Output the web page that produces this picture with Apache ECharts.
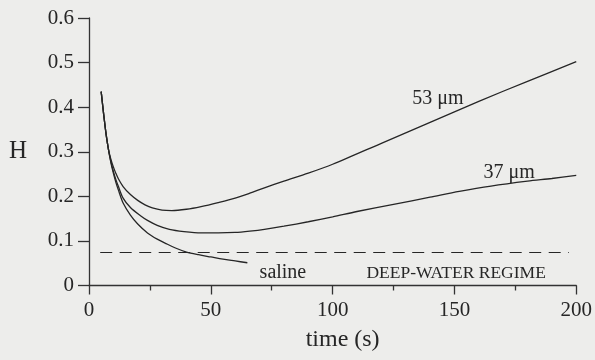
<!DOCTYPE html>
<html>
<head>
<meta charset="utf-8">
<script src="https://cdn.jsdelivr.net/npm/echarts@6/dist/echarts.min.js"></script>
<style>
html,body{margin:0;padding:0;background:#ededeb;}
#c{width:595px;height:360px;}
</style>
</head>
<body>
<div id="c"></div>
<script>
// Data (time in s, H)
var xTicks = [0, 50, 100, 150, 200];
var yTicks = [0, 0.1, 0.2, 0.3, 0.4, 0.5, 0.6];

var curve53 = [
  [5,0.435],[6,0.385],[7,0.34],[8,0.305],[9,0.283],[10,0.266],[11,0.252],[12,0.24],
  [14,0.222],[17,0.204],[20,0.191],[23,0.181],[26,0.174],[30,0.169],[34,0.168],
  [40,0.171],[46,0.177],[53,0.186],[60,0.196],[66,0.207],[72,0.219],[80,0.234],
  [90,0.252],[100,0.272],[120,0.319],[140,0.366],[160,0.413],[180,0.458],[200,0.502]
];
var curve37 = [
  [5,0.435],[6,0.385],[7,0.34],[8,0.305],[9,0.278],[10,0.256],[11,0.238],[12,0.223],
  [14,0.196],[17,0.175],[21,0.157],[24,0.146],[28,0.135],[33,0.126],[39,0.121],
  [46,0.118],[53,0.118],[60,0.119],[66,0.122],[72,0.126],[80,0.133],[90,0.143],
  [100,0.154],[110,0.166],[125,0.182],[140,0.198],[152,0.211],[165,0.223],[180,0.234],
  [190,0.24],[200,0.247]
];
var curveSaline = [
  [5,0.435],[6,0.385],[7,0.34],[8,0.305],[9,0.275],[10,0.252],[11,0.232],[12,0.215],
  [14,0.185],[17,0.158],[20,0.138],[24,0.118],[28,0.104],[32,0.093],[36,0.083],
  [40,0.075],[45,0.069],[50,0.064],[55,0.059],[60,0.055],[65,0.051]
];
var deepWater = [[4.6,0.074],[197,0.074]];

var labels53 = [{text:'53 μm', x:143.2, y:0.42}];
var labels37 = [{text:'37 μm', x:172.5, y:0.252}];
var labelsSaline = [{text:'saline', x:79.6, y:0.028}];
var labelsDeep = [{text:'DEEP-WATER REGIME', x:150.7, y:0.027}];

var FONT = 'Liberation Serif';
var INK = '#262626';

function marks(list, size) {
  return {
    symbol: 'circle',
    symbolSize: 0,
    silent: true,
    label: {show: true, position: 'inside', fontFamily: FONT, fontSize: size, color: INK,
      formatter: function (p) { return p.name; }},
    data: list.map(function (d) { return {name: d.text, coord: [d.x, d.y]}; })
  };
}

function lineSeries(name, data, extra) {
  var s = {
    name: name, type: 'line', data: data, showSymbol: false, symbol: 'none',
    smooth: 0.3, animation: false,
    lineStyle: {color: INK, width: 1.3}
  };
  for (var k in extra) s[k] = extra[k];
  return s;
}

var chart = echarts.init(document.getElementById('c'), null, {renderer: 'canvas'});
chart.setOption({
  backgroundColor: '#ededeb',
  animation: false,
  grid: {left: 89, right: 18, top: 18, bottom: 74.5, containLabel: false},
  xAxis: {
    type: 'value', min: xTicks[0], max: xTicks[xTicks.length - 1], interval: 50,
    name: 'time (s)', nameLocation: 'middle', nameGap: 54,
    nameTextStyle: {fontFamily: FONT, fontSize: 24, color: INK, verticalAlign: 'middle', padding: [0,0,0,20]},
    axisLine: {show: true, onZero: false, lineStyle: {color: '#333', width: 1.3}},
    axisTick: {show: true, inside: false, length: 9, lineStyle: {color: '#333', width: 1.3}},
    minorTick: {show: true, splitNumber: 2, length: 5, lineStyle: {color: '#333', width: 1.3}},
    splitLine: {show: false},
    axisLabel: {fontFamily: FONT, fontSize: 21, color: INK, margin: 14}
  },
  yAxis: {
    type: 'value', min: yTicks[0], max: yTicks[yTicks.length - 1], interval: 0.1,
    name: 'H', nameLocation: 'middle', nameGap: 62, nameRotate: 0,
    nameTextStyle: {fontFamily: FONT, fontSize: 25, color: INK, verticalAlign: 'middle', align: 'right', padding: [0,0,16,0]},
    axisLine: {show: true, onZero: false, lineStyle: {color: '#333', width: 1.3}},
    axisTick: {show: true, inside: false, length: 11, lineStyle: {color: '#333', width: 1.3}},
    splitLine: {show: false},
    axisLabel: {fontFamily: FONT, fontSize: 21, color: INK, margin: 15}
  },
  series: [
    lineSeries('53 μm', curve53, {markPoint: marks(labels53, 20)}),
    lineSeries('37 μm', curve37, {markPoint: marks(labels37, 20)}),
    lineSeries('saline', curveSaline, {markPoint: marks(labelsSaline, 20)}),
    lineSeries('deep-water', deepWater, {smooth: false,
      lineStyle: {color: INK, width: 1.2, type: [12, 7.5]},
      markPoint: marks(labelsDeep, 17.5)})
  ]
});
</script>
</body>
</html>
